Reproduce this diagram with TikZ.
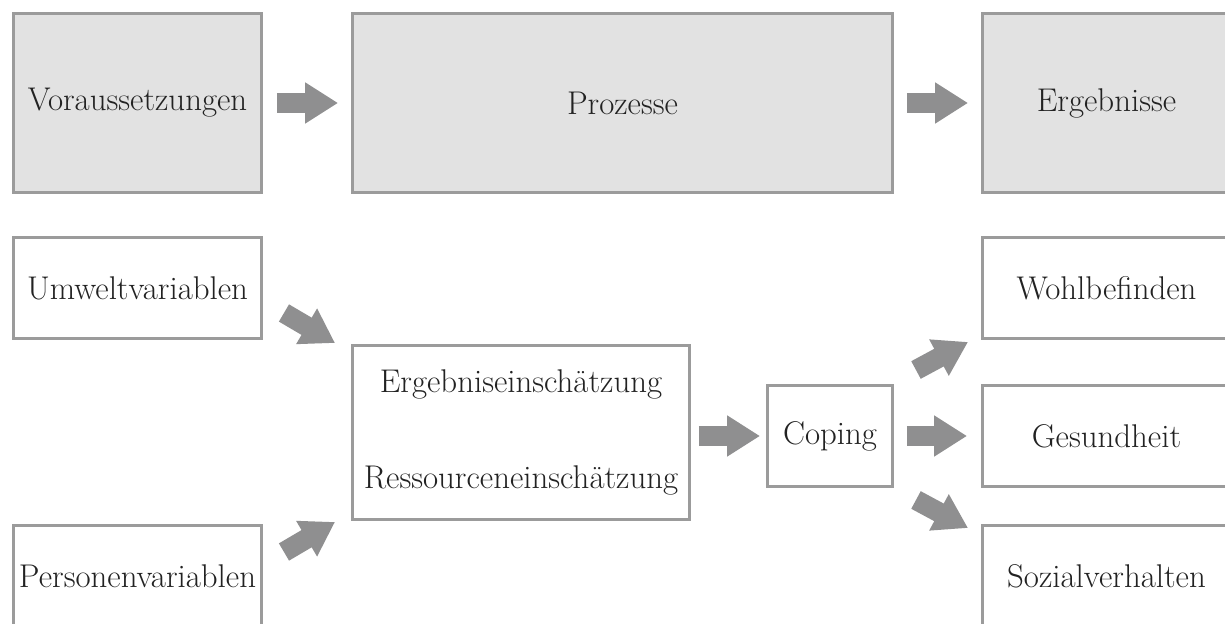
\documentclass[tikz,border=0pt]{standalone}
\usepackage{tikz}
\usetikzlibrary{arrows.meta}
\usetikzlibrary{calc}

\definecolor{boxline}{HTML}{9B9B9B}
\definecolor{boxfill}{HTML}{E2E2E2}
\definecolor{arrowgray}{HTML}{8F8F90}
\definecolor{textgray}{HTML}{222222}

\tikzset{
    box/.style={draw=boxline, line width=0.06cm, rectangle, inner sep=0pt, outer sep=0pt,
        text=textgray, font=\fontsize{18.7}{22}\selectfont, minimum width=4.98cm, minimum height=2.04cm},
    headbox/.style={box, fill=boxfill, minimum height=3.6cm},
    fatarrow/.style={draw=arrowgray, line width=0.4cm,
        -{Triangle[length=0.66cm, width=0.78cm, fill=arrowgray]}}
}

\begin{document}
\begin{tikzpicture}[x=0.02cm, y=-0.02cm]
    \clip (0, 0) rectangle (1225, 624);
    \fill[white] (0, 0) rectangle (1225, 624);

    \node[headbox] (vor) at (137.5, 103) {Voraussetzungen};
    \node[headbox, minimum width=10.82cm] (proz) at (622.5, 103) {Prozesse};
    \node[headbox] (erg) at (1106.5, 103) {Ergebnisse};

    \node[box] (umw) at (137.5, 288) {Umweltvariablen};
    \node[box] (pers) at (137.5, 576) {Personenvariablen};
    \node[box, minimum width=6.76cm, minimum height=3.5cm, align=center] (mid) at (521, 432.5)
        {Ergebniseinschätzung\\[32.6pt]Ressourceneinschätzung};
    \node[box, minimum width=2.52cm] (cop) at (830, 436) {Coping};
    \node[box] (wohl) at (1106.5, 288) {Wohlbefinden};
    \node[box] (ges) at (1106.5, 436) {Gesundheit};
    \node[box] (soz) at (1106.5, 576) {Sozialverhalten};

    \draw[fatarrow] ([xshift=0.3cm]vor.east) -- ([xshift=-0.28cm]proz.west);
    \draw[fatarrow] ([xshift=0.28cm]proz.east) -- ([xshift=-0.28cm]erg.west);

    \draw[fatarrow] ($(umw.south east)+(22,-26)$) -- ($(mid.north west)+(-17,-2)$);
    \draw[fatarrow] ($(pers.north east)+(22,27)$) -- ($(mid.south west)+(-17,2)$);
    \draw[fatarrow] ([xshift=0.18cm]mid.east |- cop.west) -- ([xshift=-0.14cm]cop.west);

    \draw[fatarrow] ($(cop.north east)+(23,-15)$) -- ($(wohl.south west)+(-14,3)$);
    \draw[fatarrow] ([xshift=0.28cm]cop.east) -- ([xshift=-0.3cm]ges.west);
    \draw[fatarrow] ($(cop.south east)+(23,13)$) -- ($(soz.north west)+(-14,3)$);
\end{tikzpicture}
\end{document}
